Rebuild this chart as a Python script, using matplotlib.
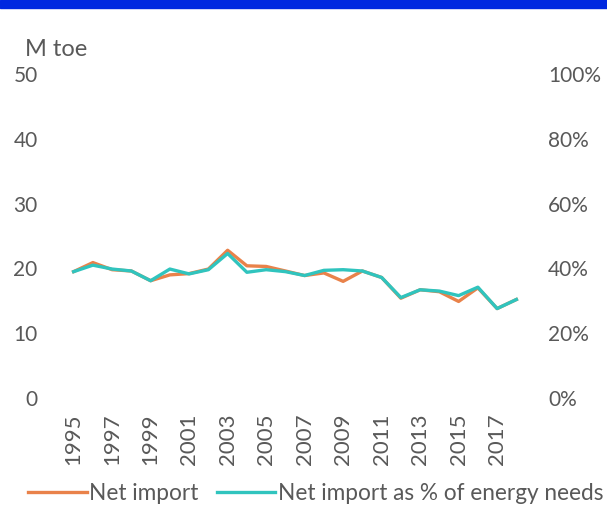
import matplotlib
matplotlib.use("Agg")
import matplotlib.pyplot as plt
from matplotlib.patches import Rectangle

years = list(range(1995, 2019))
net_import = [19.5, 20.9, 19.8, 19.6, 18.1, 19.0, 19.2, 19.9, 22.8, 20.4,
              20.3, 19.6, 18.9, 19.3, 18.0, 19.6, 18.6, 15.4, 16.7, 16.4,
              14.9, 17.0, 13.8, 15.2]
net_import_pct = [39.0, 41.0, 39.8, 39.2, 36.2, 39.8, 38.3, 39.6, 44.6, 38.8,
                  39.6, 39.0, 37.8, 39.4, 39.6, 39.2, 37.2, 31.0, 33.4, 33.0,
                  31.6, 34.2, 27.6, 30.4]
left_ticks = [0, 10, 20, 30, 40, 50]
right_ticks = [0, 20, 40, 60, 80, 100]
tick_years = list(range(1995, 2018, 2))

grey = "#595959"
orange = "#E9824A"
teal = "#30C4BE"
font = "Lato"
fs = 15

fig = plt.figure(figsize=(6.07, 5.11), dpi=100)
fig.patches.append(Rectangle((0, 1 - 8/511), 1, 8/511, transform=fig.transFigure,
                             color="#0028E0", zorder=10))

ax = fig.add_axes([64/607, 113/511, 462/607, 324/511])
ax2 = ax.twinx()

l1, = ax.plot(years, net_import, color=orange, lw=2.4, zorder=2, label="Net import")
l2, = ax2.plot(years, net_import_pct, color=teal, lw=2.4, zorder=3,
               label="Net import as % of energy needs")

ax.set_xlim(1994.5, 2018.5)
ax.set_ylim(0, 50)
ax2.set_ylim(0, 100)
ax.set_yticks(left_ticks)
ax.set_yticklabels([str(t) for t in left_ticks], fontsize=fs, color=grey, family=font)
ax2.set_yticks(right_ticks)
ax2.set_yticklabels([f"{t}%" for t in right_ticks], fontsize=fs, color=grey, family=font)
ax.set_xticks(tick_years)
ax.set_xticklabels([str(y) for y in tick_years], rotation=90, fontsize=16,
                   color=grey, family=font)

for a in (ax, ax2):
    for s in a.spines.values():
        s.set_visible(False)
    a.tick_params(length=0)
ax.tick_params(axis='y', pad=19)
ax2.tick_params(axis='y', pad=16)
ax.tick_params(axis='x', pad=11)

fig.text(25/607, 1 - 49/511, "M toe", fontsize=17, color=grey, family=font,
         va="center", ha="left")

fig.legend(handles=[l1, l2], loc="center", bbox_to_anchor=(0.52, 1 - 493/511),
           ncol=2, frameon=False, handlelength=2.6,
           columnspacing=0.8, handletextpad=0.1,
           prop={"family": font, "size": 16.3}, labelcolor=grey)

fig.savefig("out.png", dpi=100, facecolor="white")
